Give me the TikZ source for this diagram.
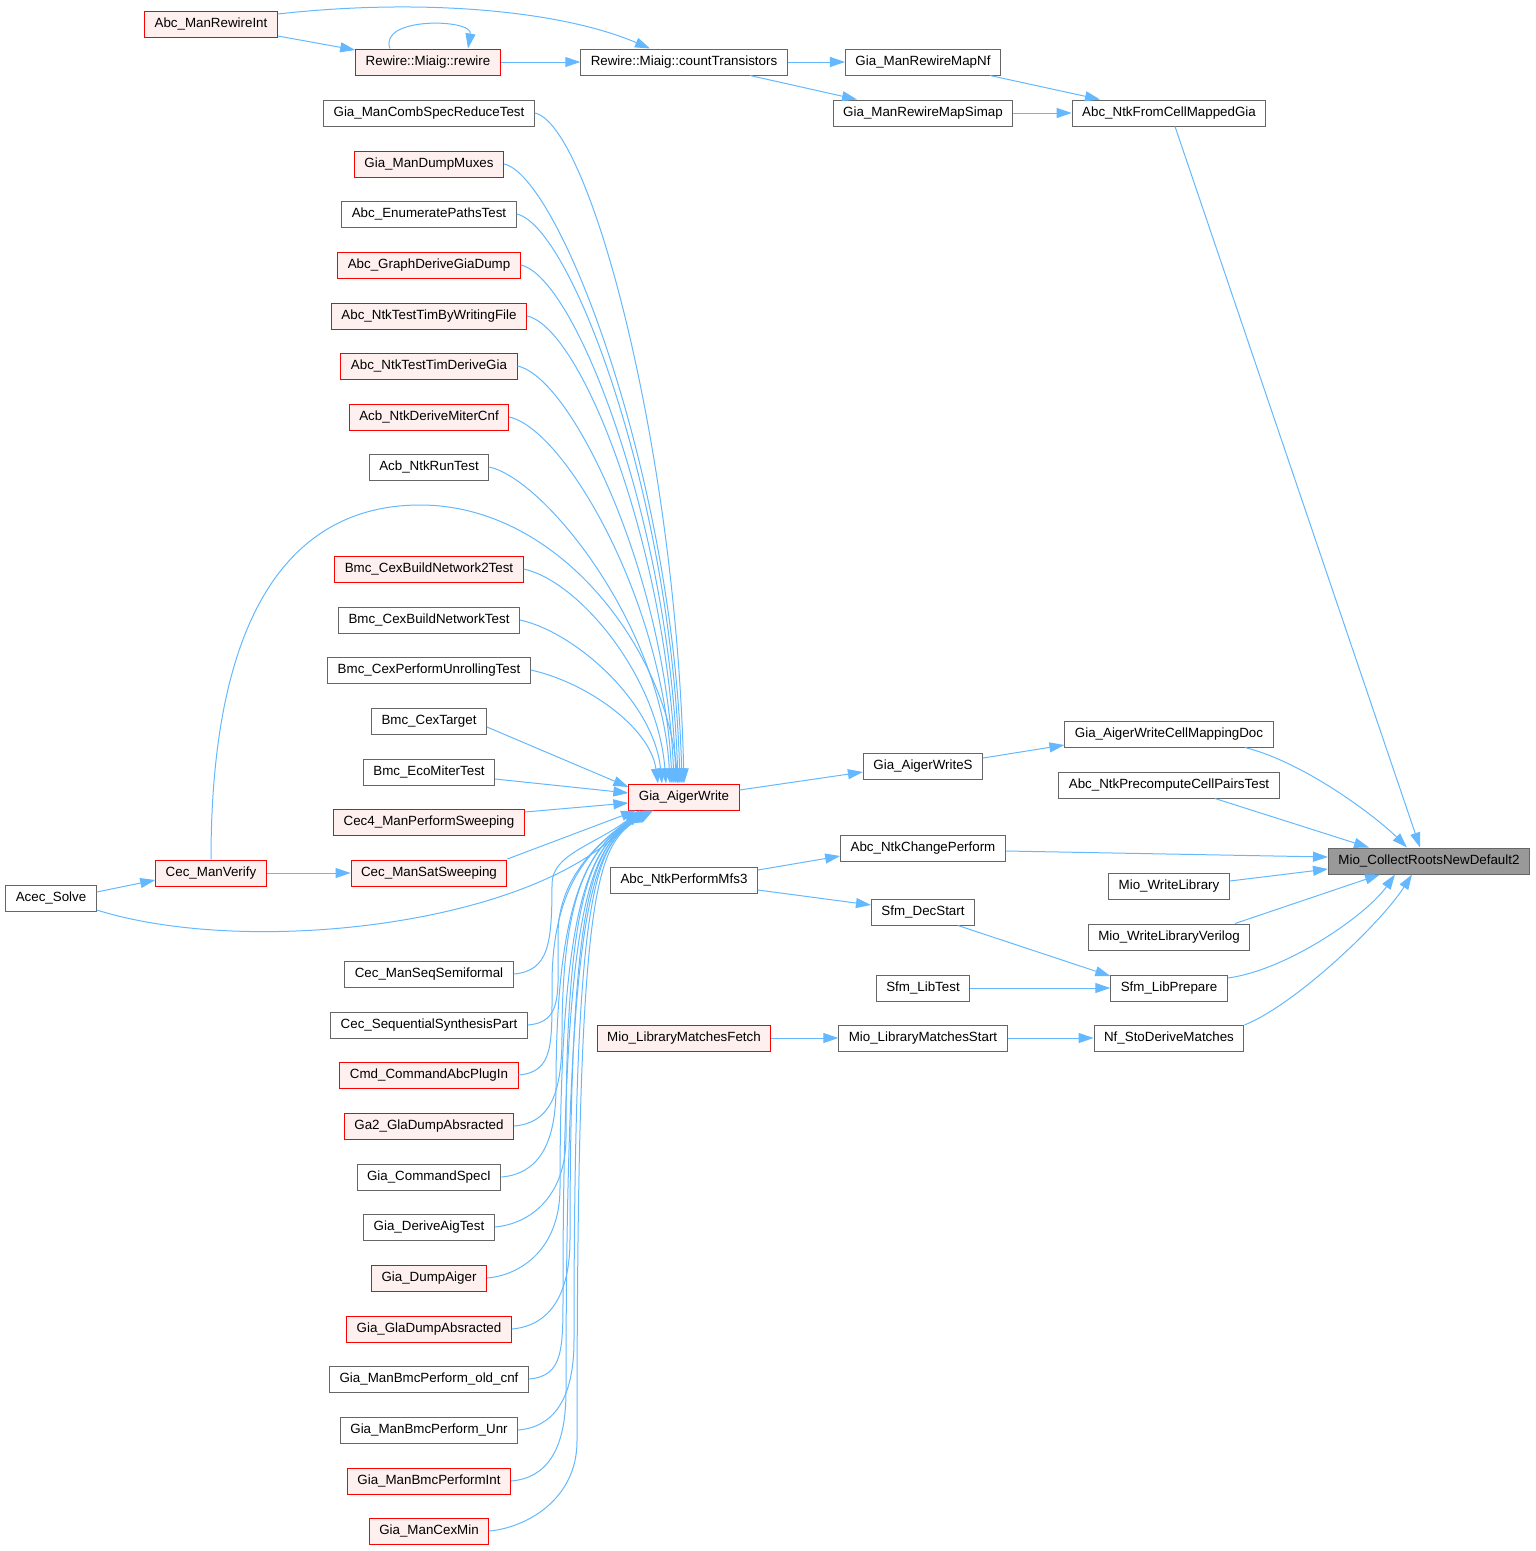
\documentclass[tikz,border=0pt]{standalone}
\usepackage{fontspec}
\setmainfont{Liberation Sans}
\usetikzlibrary{arrows.meta,positioning}
\definecolor{edgeblue}{HTML}{63B8FF}
\definecolor{boxgray}{HTML}{666666}
\definecolor{redfill}{HTML}{FFF0F0}
\definecolor{rootfill}{HTML}{999999}
\tikzset{
  fn/.style={draw=boxgray, fill=white, line width=1pt, minimum height=26pt,
    inner xsep=10pt, inner ysep=0pt, font=\fontsize{13.35}{15}\selectfont},
  fnred/.style={fn, draw=red, fill=redfill},
  fnroot/.style={fn, fill=rootfill},
  call/.style={draw=edgeblue, line width=1pt, -{Triangle[length=15pt,width=10pt]}},
}
\begin{document}
\begin{tikzpicture}[x=1pt, y=-1pt]
  \useasboundingbox (0,0) rectangle (1535,1551);
  % right part of the graph
  \node[fnroot] (root) at (1429,861) {Mio\_CollectRootsNewDefault2};
  \node[fn] (fromcell) at (1169,113) {Abc\_NtkFromCellMappedGia};
  \node[fn] (mapnf) at (923,62) {Gia\_ManRewireMapNf};
  \node[fn] (mapsimap) at (923,113) {Gia\_ManRewireMapSimap};
  \node[fn] (counttr) at (684,62) {Rewire::Miaig::countTransistors};
  \node[fnred] (rewire) at (428,62) {Rewire::Miaig::rewire};
  \node[fnred] (rewireint) at (211,24) {Abc\_ManRewireInt};
  \node[fnred] (aw) at (684,797) {Gia\_AigerWrite};
  \node[fn] (aws) at (923,766) {Gia\_AigerWriteS};
  \node[fn] (cellmapdoc) at (1169,734) {Gia\_AigerWriteCellMappingDoc};
  \node[fn] (precompute) at (1169,785) {Abc\_NtkPrecomputeCellPairsTest};
  \node[fn] (changeperf) at (923,848) {Abc\_NtkChangePerform};
  \node[fn] (mfs3) at (684,880) {Abc\_NtkPerformMfs3};
  \node[fn] (decstart) at (923,912) {Sfm\_DecStart};
  \node[fn] (writelib) at (1169,886) {Mio\_WriteLibrary};
  \node[fn] (writelibv) at (1169,937) {Mio\_WriteLibraryVerilog};
  \node[fn] (libprep) at (1169,988) {Sfm\_LibPrepare};
  \node[fn] (libtest) at (923,988) {Sfm\_LibTest};
  \node[fn] (nfderive) at (1169,1038) {Nf\_StoDeriveMatches};
  \node[fn] (matchstart) at (923,1038) {Mio\_LibraryMatchesStart};
  \node[fnred] (matchfetch) at (684,1038) {Mio\_LibraryMatchesFetch};
  \node[fnred] (manverify) at (211,873) {Cec\_ManVerify};
  \node[fn] (acec) at (51,898) {Acec\_Solve};
  % callers of Gia_AigerWrite
  \foreach \n/\s/\y/\t in {u1/fn/113/Gia\_ManCombSpecReduceTest,
      u2/fnred/164/Gia\_ManDumpMuxes, u3/fn/214/Abc\_EnumeratePathsTest,
      u4/fnred/265/Abc\_GraphDeriveGiaDump, u5/fnred/316/Abc\_NtkTestTimByWritingFile,
      u6/fnred/366/Abc\_NtkTestTimDeriveGia, u7/fnred/417/Acb\_NtkDeriveMiterCnf,
      u8/fn/467/Acb\_NtkRunTest, u9/fnred/569/Bmc\_CexBuildNetwork2Test,
      u10/fn/620/Bmc\_CexBuildNetworkTest, u11/fn/670/Bmc\_CexPerformUnrollingTest,
      u12/fn/721/Bmc\_CexTarget, u13/fn/772/Bmc\_EcoMiterTest,
      u14/fnred/822/Cec4\_ManPerformSweeping, satsweep/fnred/873/Cec\_ManSatSweeping,
      l1/fn/974/Cec\_ManSeqSemiformal, l2/fn/1025/Cec\_SequentialSynthesisPart,
      l3/fnred/1075/Cmd\_CommandAbcPlugIn, l4/fnred/1126/Ga2\_GlaDumpAbsracted,
      l5/fn/1177/Gia\_CommandSpecI, l6/fn/1227/Gia\_DeriveAigTest,
      l7/fnred/1278/Gia\_DumpAiger, l8/fnred/1329/Gia\_GlaDumpAbsracted,
      l9/fn/1379/Gia\_ManBmcPerform\_old\_cnf, l10/fn/1430/Gia\_ManBmcPerform\_Unr,
      l11/fnred/1481/Gia\_ManBmcPerformInt, l12/fnred/1531/Gia\_ManCexMin}
    \node[\s] (\n) at (429,\y) {\t};
  % edges into Gia_AigerWrite from above
  \foreach \n/\dx/\cy in {u1/0/448, u2/-2/474, u3/-4/499, u4/-6/524, u5/-8/550,
      u6/-10/575, u7/-12/600, u8/-14/625, u9/-18/676, u10/-22/702, u11/-26/727}
    \draw[call] (\n.east) .. controls +(55,12) and ({676+\dx},\cy) .. ([xshift=\dx pt]aw.north);
  % edges into Gia_AigerWrite from below
  \foreach \n/\y/\dx/\cx in {l1/974/-44/552, l2/1025/-42/558, l3/1075/-40/552,
      l4/1126/-39/562, l5/1177/-38/556, l6/1227/-37/566, l7/1278/-36/560,
      l8/1329/-35/570, l9/1379/-34/563, l10/1430/-33/574, l11/1481/-32/566,
      l12/1531/-31/577}
    \draw[call] (\n.east) .. controls +(35,-3) and (\cx,{\y-30}) .. (\cx,{\y-90})
      .. controls (\cx,{min(880,\y-120)}) and (595,845) .. ([xshift=\dx pt]aw.south);
  \draw[call] ([yshift=-6pt]u12.east) -- ([yshift=10pt]aw.west);
  \draw[call] ([yshift=-7pt]u13.east) -- ([yshift=4pt]aw.west);
  \draw[call] ([yshift=10pt]u14.east) -- ([yshift=-6pt]aw.west);
  \draw[call] ([yshift=14pt]satsweep.east) -- ([xshift=-48pt]aw.south);
  \draw[call] (manverify.east) -- (satsweep.west);
  \draw[call] ([yshift=6pt]acec.east) -- ([yshift=-7pt]manverify.west);
  \draw[call] ([yshift=-12pt]acec.east) .. controls (250,958) and (540,925) .. ([xshift=-45pt]aw.south);
  \draw[call] (manverify.north) .. controls +(0,-260) and (300,505) .. (420,505)
    .. controls (560,505) and (666,650) .. ([xshift=-6pt]aw.north);
  % top rows
  \draw[call] ([yshift=10pt]rewireint.east) .. controls (420,-2) and (560,10) .. ([xshift=-34pt]counttr.north);
  \draw[call] ([yshift=-12pt]rewireint.east) -- ([yshift=12pt]rewire.west);
  \draw[call] ([xshift=-38pt]rewire.north) .. controls +(-12,-32) and +(5,-30) .. ([xshift=40pt]rewire.north);
  \draw[call] (rewire.east) -- (counttr.west);
  \draw[call] (counttr.east) -- (mapnf.west);
  \draw[call] ([xshift=66pt]counttr.south) -- ([xshift=-66pt]mapsimap.north);
  \draw[call] ([xshift=67pt]mapnf.south) -- ([xshift=-69pt]fromcell.north);
  \draw[call] (mapsimap.east) -- (fromcell.west);
  \draw[call] ([xshift=6pt]fromcell.south) -- ([xshift=-9pt]root.north);
  % edges into Mio_CollectRootsNewDefault2
  \draw[call] ([yshift=7pt]aw.east) -- ([yshift=-6pt]aws.west);
  \draw[call] ([yshift=8pt]aws.east) -- ([yshift=-11pt]cellmapdoc.west);
  \draw[call] ([xshift=76pt]cellmapdoc.south) .. controls +(60,15) and +(-30,-30) .. ([xshift=-22pt]root.north);
  \draw[call] ([xshift=46pt]precompute.south) -- ([xshift=-60pt]root.north);
  \draw[call] ([yshift=-3pt]changeperf.east) -- ([yshift=4pt]root.west);
  \draw[call] ([yshift=5pt]writelib.east) -- ([yshift=-8pt]root.west);
  \draw[call] ([xshift=66pt]writelibv.north) -- ([xshift=-49pt]root.south);
  \draw[call] ([yshift=10pt]libprep.east) .. controls +(60,-8) and +(-28,40) .. ([xshift=-34pt]root.south);
  \draw[call] ([yshift=13pt]nfderive.east) .. controls +(50,-20) and +(-32,50) .. ([xshift=-17pt]root.south);
  \draw[call] ([yshift=10pt]mfs3.east) -- ([yshift=-8pt]changeperf.west);
  \draw[call] ([yshift=-10pt]mfs3.east) -- ([yshift=7pt]decstart.west);
  \draw[call] ([xshift=35pt]decstart.south) -- ([yshift=12pt]libprep.west);
  \draw[call] (libtest.east) -- (libprep.west);
  \draw[call] (matchstart.east) -- (nfderive.west);
  \draw[call] (matchfetch.east) -- (matchstart.west);
\end{tikzpicture}
\end{document}
